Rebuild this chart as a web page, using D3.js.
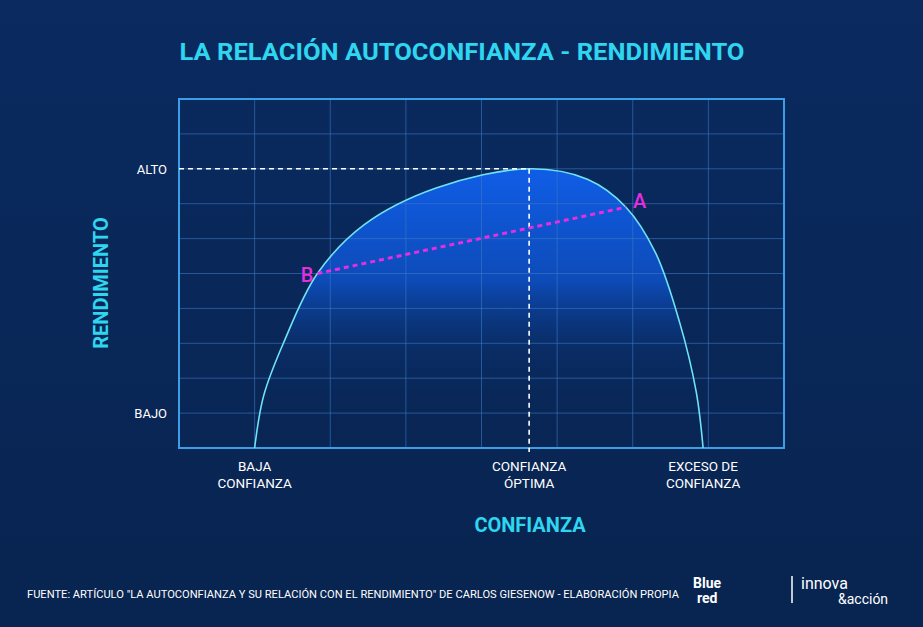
<!DOCTYPE html>
<html><head><meta charset="utf-8">
<script src="https://cdn.jsdelivr.net/npm/d3@7"></script>
<style>body{margin:0;background:#0b2a5c}</style></head>
<body><svg id="c" width="923" height="627"></svg>
<script>
// curva confianza (0-8) vs rendimiento (0-10)
const curva = [[1.0,0],[1.12,1.5],[1.38,3],[1.83,5],[2.45,6.4],[3.4,7.45],[4.63,8],[5.4,7.7],[5.91,6.9],[6.3,5.6],[6.62,3.6],[6.84,1.6],[6.93,0]];
const puntoB = [1.83,5.0], puntoA = [5.91,6.9];
const optima = [4.63,8];
const yTicks = [{v:8,t:"ALTO"},{v:1,t:"BAJO"}];
const xTicks = [{v:1.0,t:["BAJA","CONFIANZA"]},{v:4.63,t:["CONFIANZA","ÓPTIMA"]},{v:6.93,t:["EXCESO DE","CONFIANZA"]}];

const svg = d3.select("#c");
const defs = svg.append("defs");
const bg = defs.append("linearGradient").attr("id","bg").attr("x1",0).attr("y1",0).attr("x2",0).attr("y2",1);
bg.append("stop").attr("offset","0").attr("stop-color","#0a2a60");
bg.append("stop").attr("offset","1").attr("stop-color","#082450");
const fg = defs.append("linearGradient").attr("id","fg").attr("gradientUnits","userSpaceOnUse").attr("x1",0).attr("y1",169).attr("x2",0).attr("y2",448);
fg.append("stop").attr("offset","0").attr("stop-color","#105de6");
fg.append("stop").attr("offset","0.4").attr("stop-color","#0d4bb8");
fg.append("stop").attr("offset","0.65").attr("stop-color","#0a3272").attr("stop-opacity",0.5);
fg.append("stop").attr("offset","0.9").attr("stop-color","#0a2a60").attr("stop-opacity",0);
svg.append("rect").attr("width",923).attr("height",627).attr("fill","url(#bg)");

const x = d3.scaleLinear().domain([0,8]).range([179,784]);
const y = d3.scaleLinear().domain([0,10]).range([448,99]);

svg.append("text").attr("x",462).attr("y",60).attr("text-anchor","middle")
  .attr("fill","#2fd6ef").attr("font-family","Roboto").attr("font-weight","bold").attr("font-size",24)
  .attr("textLength",565).attr("lengthAdjust","spacingAndGlyphs")
  .text("LA RELACIÓN AUTOCONFIANZA - RENDIMIENTO");

const line = d3.line().x(d=>x(d[0])).y(d=>y(d[1])).curve(d3.curveCatmullRom.alpha(0.5));
svg.append("path").datum(curva).attr("d",line).attr("fill","url(#fg)");

// grid
svg.append("g").selectAll("line").data(d3.range(1,8)).join("line")
  .attr("x1",d=>x(d)).attr("x2",d=>x(d)).attr("y1",y(0)).attr("y2",y(10))
  .attr("stroke","#3a78c4").attr("stroke-opacity",0.6);
svg.append("g").selectAll("line").data(d3.range(1,10)).join("line")
  .attr("y1",d=>y(d)).attr("y2",d=>y(d)).attr("x1",x(0)).attr("x2",x(8))
  .attr("stroke","#3a78c4").attr("stroke-opacity",0.6);
svg.append("rect").attr("x",x(0)).attr("y",y(10)).attr("width",x(8)-x(0)).attr("height",y(0)-y(10))
  .attr("fill","none").attr("stroke","#3c9ee6").attr("stroke-width",2);
svg.append("path").datum(curva).attr("d",line).attr("fill","none").attr("stroke","#6fe3f5").attr("stroke-width",1.6);

// dashed references
svg.append("line").attr("x1",x(0)).attr("x2",x(optima[0])).attr("y1",y(optima[1])).attr("y2",y(optima[1]))
  .attr("stroke","#fff").attr("stroke-width",1.6).attr("stroke-dasharray","5,4");
svg.append("line").attr("x1",x(optima[0])).attr("x2",x(optima[0])).attr("y1",y(optima[1])).attr("y2",y(0)+4)
  .attr("stroke","#fff").attr("stroke-width",1.6).attr("stroke-dasharray","5,4");
svg.append("line").attr("x1",x(puntoB[0])).attr("x2",x(puntoA[0])).attr("y1",y(puntoB[1])).attr("y2",y(puntoA[1]))
  .attr("stroke","#e42ee0").attr("stroke-width",3).attr("stroke-dasharray","5,4");
svg.append("text").attr("x",x(puntoB[0])-4).attr("y",y(puntoB[1])+8).attr("text-anchor","end")
  .attr("fill","#e42ee0").attr("font-family","Roboto").attr("font-weight","500").attr("font-size",20).text("B");
svg.append("text").attr("x",x(puntoA[0])+7).attr("y",y(puntoA[1])+1).attr("fill","#e42ee0")
  .attr("font-family","Roboto").attr("font-weight","500").attr("font-size",20).text("A");

// tick labels
svg.append("g").selectAll("text").data(yTicks).join("text")
  .attr("x",167).attr("y",d=>y(d.v)+5).attr("text-anchor","end").attr("fill","#fff")
  .attr("font-family","Roboto").attr("font-size",13).text(d=>d.t);
const xt = svg.append("g").selectAll("text").data(xTicks).join("text")
  .attr("text-anchor","middle").attr("fill","#fff").attr("font-family","Roboto").attr("font-size",13.5);
xt.selectAll("tspan").data(d=>d.t.map(s=>({s,v:d.v}))).join("tspan")
  .attr("x",d=>x(d.v)).attr("dy",(d,i)=>i?17:0).text(d=>d.s);
xt.attr("y",471);

svg.append("text").attr("x",530).attr("y",532).attr("text-anchor","middle").attr("fill","#2fd6ef")
  .attr("font-family","Roboto").attr("font-weight","bold").attr("font-size",20).text("CONFIANZA");
svg.append("text").attr("transform","translate(108,283) rotate(-90)").attr("text-anchor","middle").attr("fill","#2fd6ef")
  .attr("font-family","Roboto").attr("font-weight","bold").attr("font-size",20).text("RENDIMIENTO");

svg.append("text").attr("x",27).attr("y",598).attr("fill","#fff").attr("font-family","Roboto").attr("font-size",11.5)
  .attr("textLength",652).attr("lengthAdjust","spacingAndGlyphs")
  .text("FUENTE: ARTÍCULO \"LA AUTOCONFIANZA Y SU RELACIÓN CON EL RENDIMIENTO\" DE CARLOS GIESENOW - ELABORACIÓN PROPIA");
const logo = svg.append("text").attr("y",588).attr("fill","#fff").attr("font-family","Roboto").attr("font-weight","bold").attr("font-size",14);
logo.append("tspan").attr("x",693).text("Blue");
logo.append("tspan").attr("x",697).attr("dy",15).text("red");
svg.append("line").attr("x1",792).attr("x2",792).attr("y1",576).attr("y2",603).attr("stroke","#fff").attr("stroke-width",1.5);
const logo2 = svg.append("text").attr("y",589).attr("fill","#fff").attr("font-family","Roboto").attr("font-size",16);
logo2.append("tspan").attr("x",801).text("innova");
logo2.append("tspan").attr("x",838).attr("dy",15).attr("font-size",14).text("&acción");
</script></body></html>
